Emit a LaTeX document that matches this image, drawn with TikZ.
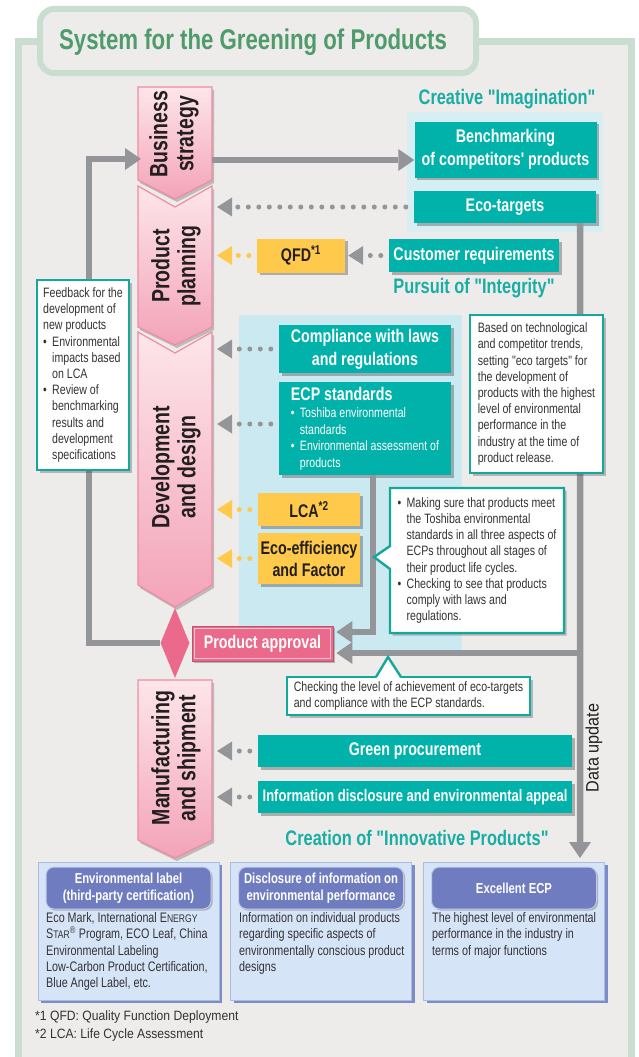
\documentclass[tikz,border=0pt]{standalone}
\usepackage{fontspec}
\setmainfont{Liberation Sans}
\newfontfamily\cnd{Liberation Sans}[FakeStretch=0.78]
\newfontfamily\cndn{Liberation Sans}[FakeStretch=0.9]
\usetikzlibrary{arrows.meta,shapes.geometric,shapes.callouts,shadows,calc}
\newcommand\fs[2]{\fontsize{#1pt}{#2pt}\selectfont}
\newcommand\bul{\makebox[9pt][l]{•}}
\newcommand\ind{\hspace*{9pt}}
\definecolor{frameG}{HTML}{C9DDD1}
\definecolor{bgG}{HTML}{EDECEA}
\definecolor{titleG}{HTML}{4F9B6C}
\definecolor{tealB}{HTML}{00B2A9}
\definecolor{tealH}{HTML}{1AADA3}
\definecolor{tealC}{HTML}{14A89C}
\definecolor{yel}{HTML}{FFC94B}
\definecolor{pinkT}{HTML}{FDE6EA}
\definecolor{pinkB}{HTML}{F3A3B8}
\definecolor{pinkD}{HTML}{EE8CA4}
\definecolor{appr}{HTML}{EB6A8C}
\definecolor{grayA}{HTML}{939598}
\definecolor{lblue}{HTML}{CBE9F1}
\definecolor{glow}{HTML}{D7EEF3}
\definecolor{bfill}{HTML}{D5E4F6}
\definecolor{bdraw}{HTML}{A8BCE4}
\definecolor{bshad}{HTML}{7D8CC8}
\definecolor{hfill}{HTML}{6F7DC0}
\definecolor{darkT}{HTML}{231F20}
\definecolor{callT}{HTML}{333333}
\begin{document}
\begin{tikzpicture}[x=1pt,y=-1pt,
  tbox/.style={fill=tealB, text=white, font=\cnd\bfseries\fs{18.3}{23}, align=center, inner sep=0pt,
    drop shadow={shadow xshift=2.5pt, shadow yshift=-2.5pt, opacity=0.4, fill=black!70}},
  ybox/.style={tbox, fill=yel, text=darkT},
  chev/.style={top color=pinkT, bottom color=pinkB, draw=pinkD, line width=1.2pt,
    drop shadow={shadow xshift=2pt, shadow yshift=-3pt, opacity=0.3, fill=black!70}},
  chevtext/.style={rotate=90, align=center, font=\cnd\bfseries\fs{25}{26}, text=darkT},
  head/.style={font=\cnd\bfseries\fs{21}{24}, text=tealH},
  note/.style={draw=tealC, line width=2.4pt, fill=white, text=callT, font=\cnd\fs{13.6}{16.2},
    align=left, inner sep=0pt,
    drop shadow={shadow xshift=2.5pt, shadow yshift=-2.5pt, opacity=0.35, fill=black!70}},
  garrow/.style={draw=grayA, line width=6.5pt, -{Triangle[length=16pt,width=22pt,line width=0pt]}},
  dotg/.style={draw=grayA, line width=5pt, line cap=round, dash pattern=on 0pt off 10.5pt, shorten <=8pt,
    -{Triangle[length=15pt,width=19pt,line width=0pt]}},
  doty/.style={dotg, draw=yel},
  bbox/.style={fill=bfill, draw=bdraw, line width=1pt, minimum width=181pt, minimum height=138pt, inner sep=0pt,
    drop shadow={shadow xshift=3pt, shadow yshift=-3pt, opacity=1, fill=bshad}},
  hbox/.style={fill=hfill, draw=white!60!hfill, line width=1pt, rounded corners=8pt, minimum width=165pt,
    minimum height=42pt, inner sep=0pt, text=white, font=\cnd\bfseries\fs{14.5}{17}, align=center,
    drop shadow={shadow xshift=1.5pt, shadow yshift=-1.5pt, opacity=0.35, fill=black!70}},
  btext/.style={anchor=north west, inner sep=0pt, align=left, font=\cnd\fs{13.8}{16.4}, text=callT},
  foot/.style={anchor=west, inner sep=0pt, font=\cndn\fs{13.5}{16}, text=callT}
]
\useasboundingbox (0,0) rectangle (639,1057);
\clip (0,0) rectangle (639,1057);
% frame and title tab
\draw[line width=7pt, draw=frameG, fill=bgG] (18.5,42) rectangle (631.5,1080);
\draw[line width=6pt, draw=frameG, fill=bgG, rounded corners=14pt] (40,9) rectangle (476,73);
\node[font=\cnd\bfseries\fs{28.5}{30}, text=titleG] (title) at (253,42) {System for the Greening of Products};
% light panels
\fill[glow] (407,112) rectangle (603,232);
\fill[lblue] (239,315) rectangle (462,650);
% chevrons
\path[chev] (138,87) -- (212,87) -- (212,180) -- (175,199) -- (138,180) -- cycle;
\path[chev] (138,186) -- (175,207) -- (212,186) -- (212,327) -- (175,345) -- (138,327) -- cycle;
\path[chev] (138,332) -- (175,353) -- (212,332) -- (212,585) -- (175,607) -- (138,585) -- cycle;
\path[chev] (138,680) -- (212,680) -- (212,840) -- (175,858) -- (138,840) -- cycle;
\node[chevtext] (bs) at (174,134) {Business\\strategy};
\node[chevtext] (pp) at (176,266) {Product\\planning};
\node[chevtext] (dd) at (176,467) {Development\\and design};
\node[chevtext] (ms) at (176,758) {Manufacturing\\and shipment};
\coordinate (bsR) at (212,160);
\coordinate (bsL) at (141,159);
\coordinate (ppR) at (217,266);
\coordinate (ddR) at (217,467);
\coordinate (msR) at (217,758);
% headings
\node[head] (hcre) at (507,99) {Creative "Imagination"};
\node[head] (hint) at (474,288) {Pursuit of "Integrity"};
\node[head] (hinn) at (417,838) {Creation of "Innovative Products"};
% boxes
\node[tbox, minimum width=182pt, minimum height=56pt] (bench) at (505.5,149.5) {Benchmarking\\of competitors' products};
\node[tbox, minimum width=182pt, minimum height=32pt] (eco) at (505,207) {Eco-targets};
\node[tbox, minimum width=170pt, minimum height=33pt] (cust) at (474,255.5) {Customer requirements};
\node[ybox, minimum width=88pt, minimum height=34pt] (qfd) at (301,255.5) {QFD\textsuperscript{*1}};
\node[tbox, minimum width=172pt, minimum height=48pt] (compl) at (365,349) {Compliance with laws\\and regulations};
\node[tbox, minimum width=172pt, minimum height=93pt, align=left, font=\cnd\fs{13.6}{16.5}] (ecp) at (365,428.5)
  {{\fs{18.3}{20}\bfseries ECP standards}\\[1pt]\bul Toshiba environmental\\\ind standards\\\bul Environmental assessment of\\\ind products};
\node[ybox, minimum width=102pt, minimum height=33pt] (lca) at (309,509.5) {LCA\textsuperscript{*2}};
\node[ybox, minimum width=102pt, minimum height=51pt, font=\cnd\bfseries\fs{18.3}{22}] (ecoeff) at (309,558.5) {Eco-efficiency\\and Factor};
\node[tbox, minimum width=314pt, minimum height=32pt] (green) at (415,751) {Green procurement};
\node[tbox, minimum width=314pt, minimum height=32pt, font=\cnd\bfseries\fs{16.7}{20}] (info) at (415,797) {Information disclosure and environmental appeal};
% thick connectors
\draw[garrow] (bsR) -- (bench.west |- bsR);
\coordinate (ecpA) at ([yshift=4.5pt]ecp.west);
\coordinate (ecoS) at ([xshift=-16pt]eco.south east);
\coordinate (duEnd) at (580,858);
\coordinate (junc) at (580,653);
\draw[garrow] (ecoS) -- (duEnd);
% diamond and approval
\node[diamond, fill=appr, minimum width=29pt, minimum height=70pt, inner sep=0pt] (diam) at (175,643) {};
\draw[garrow] (diam.west) -- (89,643) |- (bsL);
\node[fill=appr, draw=appr!80!black, line width=0.8pt, minimum width=141pt, minimum height=35pt, inner sep=0pt,
  text=white, font=\cnd\bfseries\fs{18.3}{20},
  drop shadow={shadow xshift=2pt, shadow yshift=-2pt, opacity=0.35, fill=black!70}] (approval) at (262.5,643.5) {Product approval};
\draw[white!60!appr, line width=1pt] ([shift={(2.5pt,2.5pt)}]approval.south west) rectangle ([shift={(-2.5pt,-2.5pt)}]approval.north east);
\draw[garrow] ([xshift=8pt]ecp.south) |- ([xshift=3pt,yshift=11.5pt]approval.east);
\draw[garrow] (junc) -- ([xshift=3pt,yshift=-9.5pt]approval.east);
% dotted connectors
\draw[dotg] (eco.west) -- (eco.west -| ppR);
\draw[dotg] (cust.west) -- ([xshift=3pt]qfd.east);
\draw[doty] (qfd.west) -- (qfd.west -| ppR);
\draw[dotg] (compl.west) -- (compl.west -| ddR);
\draw[dotg] (ecpA) -- (ecpA -| ddR);
\draw[doty] (lca.west) -- (lca.west -| ddR);
\draw[doty] (ecoeff.west) -- (ecoeff.west -| ddR);
\draw[dotg] (green.west) -- (green.west -| msR);
\draw[dotg] (info.west) -- (info.west -| msR);
% data update label
\node[rotate=90, font=\cndn\fs{18}{20}, text=darkT] (du) at (594,748) {Data update};
% callouts
\node[note, minimum width=92pt, minimum height=190pt] (fb) at (83,375)
  {Feedback for the\\development of\\new products\\\bul Environmental\\\ind impacts based\\\ind on LCA\\\bul Review of\\\ind benchmarking\\\ind results and\\\ind development\\\ind specifications};
\node[note, minimum width=133pt, minimum height=158pt] (based) at (536.5,394)
  {Based on technological\\and competitor trends,\\setting "eco targets" for\\the development of\\products with the highest\\level of environmental\\performance in the\\industry at the time of\\product release.};
\node[note, rectangle callout, callout absolute pointer={(374,557)}, callout pointer width=23pt,
  minimum width=174pt, minimum height=145pt] (making) at (477,560.5)
  {\bul Making sure that products meet\\\ind the Toshiba environmental\\\ind standards in all three aspects of\\\ind ECPs throughout all stages of\\\ind their product life cycles.\\\bul Checking to see that products\\\ind comply with laws and\\\ind regulations.};
\node[note, minimum width=243pt, minimum height=38pt] (checking) at (408.5,696)
  {Checking the level of achievement of eco-targets\\and compliance with the ECP standards.};
\fill[white] (376,678.6) -- (388,658.5) -- (401,678.6) -- cycle;
\draw[tealC, line width=2.4pt] (376,677) -- (388,657) -- (401,677);
% bottom boxes
\node[bbox] (b1) at (128.5,931) {};
\node[bbox] (b2) at (321,931) {};
\node[bbox] (b3) at (514,931) {};
\node[hbox] (h1) at (128.5,888) {Environmental label\\(third-party certification)};
\node[hbox] (h2) at (321,888) {Disclosure of information on\\environmental performance};
\node[hbox] (h3) at (514,888) {Excellent ECP};
\node[btext] (t1) at (46,912) {Eco Mark, International E{\fs{11}{16.4}NERGY}\\S{\fs{11}{16.4}TAR}\textsuperscript{®} Program, ECO Leaf, China\\Environmental Labeling\\Low-Carbon Product Certification,\\Blue Angel Label, etc.};
\node[btext] (t2) at (239,912) {Information on individual products\\regarding specific aspects of\\environmentally conscious product\\designs};
\node[btext] (t3) at (432,912) {The highest level of environmental\\performance in the industry in\\terms of major functions};
% footnotes
\node[foot] (fn1) at (35,1017) {*1 QFD: Quality Function Deployment};
\node[foot] (fn2) at (35,1035) {*2 LCA: Life Cycle Assessment};
\end{tikzpicture}
\end{document}
